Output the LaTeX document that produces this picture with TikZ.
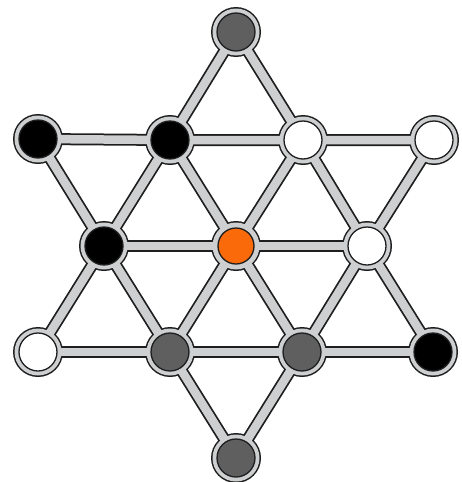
\documentclass[tikz,border=0pt]{standalone}
\definecolor{tube}{HTML}{CDCFD0}
\definecolor{edgeline}{HTML}{1E1E1E}
\definecolor{stonegray}{HTML}{5F5F5F}
\definecolor{stoneorange}{HTML}{FA6A0A}
\tikzset{
  outerline/.style={line width=12pt, edgeline},
  innerline/.style={line width=8.5pt, tube},
  stone/.style={circle, draw=edgeline, line width=1.3pt, minimum size=38pt, inner sep=0pt},
}
\begin{document}
\begin{tikzpicture}[x=1pt,y=-1pt]
\useasboundingbox (0,0) rectangle (461,482);
% positions
\coordinate (t) at (236,32);
\coordinate (a1) at (38,139);
\coordinate (a2) at (170,140);
\coordinate (a3) at (303,140);
\coordinate (a4) at (434,140);
\coordinate (b1) at (104,246);
\coordinate (b2) at (236,246);
\coordinate (b3) at (367,246);
\coordinate (c1) at (38,352);
\coordinate (c2) at (170,352);
\coordinate (c3) at (302,352);
\coordinate (c4) at (433,352);
\coordinate (d) at (236,458);
\newcommand{\edges}[1]{%
  \draw[#1] (t) -- (a2) -- (b1) -- (c1);
  \draw[#1] (t) -- (a3) -- (b3) -- (c4);
  \draw[#1] (c1) -- (c2) -- (c3) -- (c4);
  \draw[#1] (a1) -- (a2) -- (a3) -- (a4);
  \draw[#1] (a1) -- (b1) -- (c2) -- (d);
  \draw[#1] (a4) -- (b3) -- (c3) -- (d);
  \draw[#1] (b1) -- (b2) -- (b3);
  \draw[#1] (a2) -- (b2) -- (c3);
  \draw[#1] (a3) -- (b2) -- (c2);
}
\edges{outerline}
\foreach \p in {t,a1,a2,a3,a4,b1,b2,b3,c1,c2,c3,c4,d}
  \fill[edgeline] (\p) circle (25);
\edges{innerline}
\foreach \p in {t,a1,a2,a3,a4,b1,b2,b3,c1,c2,c3,c4,d}
  \fill[tube] (\p) circle (23.5);
% stones
\node[stone, fill=stonegray] (nt) at (t) {};
\node[stone, fill=black] (na1) at (a1) {};
\node[stone, fill=black] (na2) at (a2) {};
\node[stone, fill=white] (na3) at (a3) {};
\node[stone, fill=white] (na4) at (a4) {};
\node[stone, fill=black] (nb1) at (b1) {};
\node[stone, fill=stoneorange, minimum size=36pt] (nb2) at (b2) {};
\node[stone, fill=white] (nb3) at (b3) {};
\node[stone, fill=white] (nc1) at (c1) {};
\node[stone, fill=stonegray] (nc2) at (c2) {};
\node[stone, fill=stonegray] (nc3) at (c3) {};
\node[stone, fill=black] (nc4) at (c4) {};
\node[stone, fill=stonegray] (nd) at (d) {};
\end{tikzpicture}
\end{document}
